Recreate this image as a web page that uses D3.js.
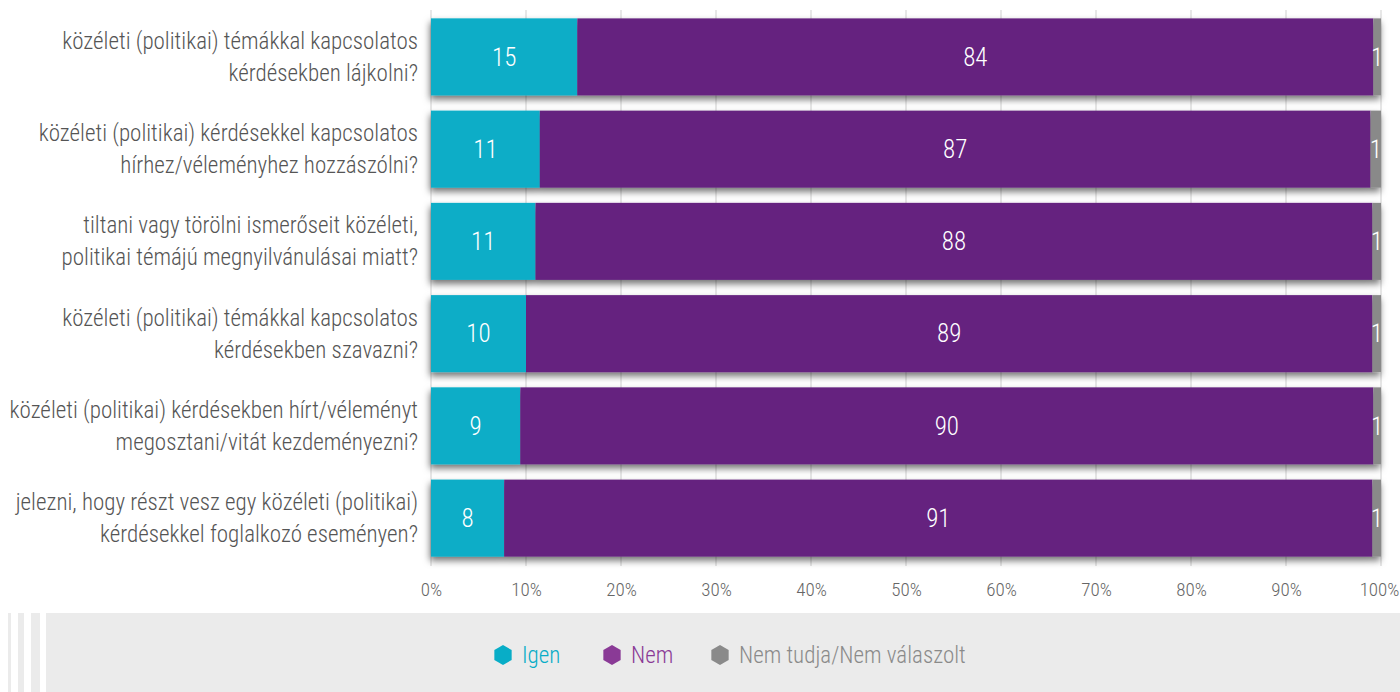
<!DOCTYPE html>
<html>
<head>
<meta charset="utf-8">
<script src="https://cdn.jsdelivr.net/npm/d3@7"></script>
<style>
  body { margin: 0; background: #fff; }
  svg text { font-family: Roboto, sans-serif; font-stretch: condensed; font-weight: 300; }
</style>
</head>
<body>
<div id="chart"></div>
<script>
"use strict";

const WIDTH = 1400, HEIGHT = 692;

// questions, top to bottom (two lines each)
var questions = [
  ["közéleti (politikai) témákkal kapcsolatos", "kérdésekben lájkolni?"],
  ["közéleti (politikai) kérdésekkel kapcsolatos", "hírhez/véleményhez hozzászólni?"],
  ["tiltani vagy törölni ismerőseit közéleti,", "politikai témájú megnyilvánulásai miatt?"],
  ["közéleti (politikai) témákkal kapcsolatos", "kérdésekben szavazni?"],
  ["közéleti (politikai) kérdésekben hírt/véleményt", "megosztani/vitát kezdeményezni?"],
  ["jelezni, hogy részt vesz egy közéleti (politikai)", "kérdésekkel foglalkozó eseményen?"]
];
var igen = [15.4, 11.45, 11.0, 10.0, 9.4, 7.7];
var nem = [83.8, 87.45, 88.1, 89.1, 89.8, 91.4];
var nemTudja = [0.8, 1.1, 0.9, 0.9, 0.8, 0.9];

var seriesNames = ["Igen", "Nem", "Nem tudja/Nem válaszolt"];
var seriesColors = ["#08adc7", "#65237f", "#898989"];
var legendColors = ["#08adc7", "#8a3a96", "#8a8a8a"];
var tickValues = [0, 10, 20, 30, 40, 50, 60, 70, 80, 90, 100];

var rows = questions.map(function(q, i) {
  return { q: q, i: i, values: [igen[i], nem[i], nemTudja[i]] };
});

var stack = function(d) {
  var acc = 0;
  return d.values.map(function(v, k) {
    var s = { start: acc, value: v, k: k };
    acc += v;
    return s;
  });
};

var svg = d3.select("#chart").append("svg")
  .attr("width", WIDTH)
  .attr("height", HEIGHT);

var shadow = svg.append("defs").append("filter")
  .attr("id", "shadow")
  .attr("x", "-5%").attr("y", "-20%")
  .attr("width", "110%").attr("height", "150%");
shadow.append("feDropShadow")
  .attr("dx", -1).attr("dy", 4)
  .attr("stdDeviation", 3.5)
  .attr("flood-color", "#000")
  .attr("flood-opacity", 0.55);

var xScale = d3.scaleLinear()
  .domain([0, 100])
  .range([431, 1381]);
var yScale = d3.scaleBand()
  .domain(d3.range(questions.length))
  .range([11, 564])
  .paddingInner(0.165)
  .paddingOuter(0.08);

// grid
svg.append("g").selectAll("line")
  .data(tickValues)
  .join("line")
  .attr("x1", function(d) { return xScale(d); })
  .attr("x2", function(d) { return xScale(d); })
  .attr("y1", 10)
  .attr("y2", 566)
  .attr("stroke", "#cfcfcf")
  .attr("stroke-width", 1);

// x axis labels
var xAxis = d3.axisBottom(xScale)
  .tickValues(tickValues)
  .tickSize(0)
  .tickFormat(function(d) { return d + "%"; });
var axisG = svg.append("g")
  .attr("transform", "translate(0,579)")
  .call(xAxis);
axisG.select(".domain").remove();
axisG.selectAll("text")
  .attr("fill", "#666")
  .attr("font-family", null)
  .attr("font-size", 19);
axisG.selectAll(".tick:last-of-type text").attr("text-anchor", "end").attr("dx", 18);

// bars
var rowG = svg.append("g").selectAll("g")
  .data(rows)
  .join("g")
  .attr("transform", function(d) { return "translate(0," + yScale(d.i) + ")"; });

rowG.append("g")
  .attr("filter", "url(#shadow)")
  .selectAll("rect")
  .data(stack)
  .join("rect")
  .attr("x", function(d) { return xScale(d.start); })
  .attr("width", function(d) { return xScale(d.start + d.value) - xScale(d.start); })
  .attr("y", 0)
  .attr("height", yScale.bandwidth())
  .attr("fill", function(d) { return seriesColors[d.k]; });

rowG.selectAll("text.val")
  .data(stack)
  .join("text")
  .attr("class", "val")
  .attr("x", function(d) { return xScale(d.start + d.value / 2); })
  .attr("y", yScale.bandwidth() / 2)
  .attr("dy", "0.35em")
  .attr("text-anchor", "middle")
  .attr("fill", "#fff")
  .attr("font-size", 25)
  .text(function(d) { return Math.round(d.value); });

// question labels
rowG.append("text")
  .attr("text-anchor", "end")
  .attr("fill", "#555")
  .attr("font-size", 23)
  .selectAll("tspan")
  .data(function(d) { return d.q; })
  .join("tspan")
  .attr("x", 418)
  .attr("y", function(d, j) { return yScale.bandwidth() / 2 - 8 + j * 32; })
  .text(function(d) { return d; });

// legend box
svg.append("g").selectAll("rect")
  .data([[8, 3], [18, 6], [31, 9], [46, 1354]])
  .join("rect")
  .attr("x", function(d) { return d[0]; })
  .attr("width", function(d) { return d[1]; })
  .attr("y", 613)
  .attr("height", 79)
  .attr("fill", "#ebebeb");

var legendX = [503, 612, 720];
var legend = svg.append("g").selectAll("g")
  .data(seriesNames)
  .join("g")
  .attr("transform", function(d, i) { return "translate(" + legendX[i] + ",655)"; });

var hexPath = d3.line()(d3.range(6).map(function(k) {
  var a = Math.PI / 3 * k - Math.PI / 2;
  return [10 * Math.cos(a), 10 * Math.sin(a)];
})) + "Z";

legend.append("path")
  .attr("d", hexPath)
  .attr("fill", function(d, i) { return legendColors[i]; });

legend.append("text")
  .attr("x", 19)
  .attr("dy", "0.35em")
  .attr("font-size", 23)
  .attr("fill", function(d, i) { return legendColors[i]; })
  .text(function(d) { return d; });
</script>
</body>
</html>
